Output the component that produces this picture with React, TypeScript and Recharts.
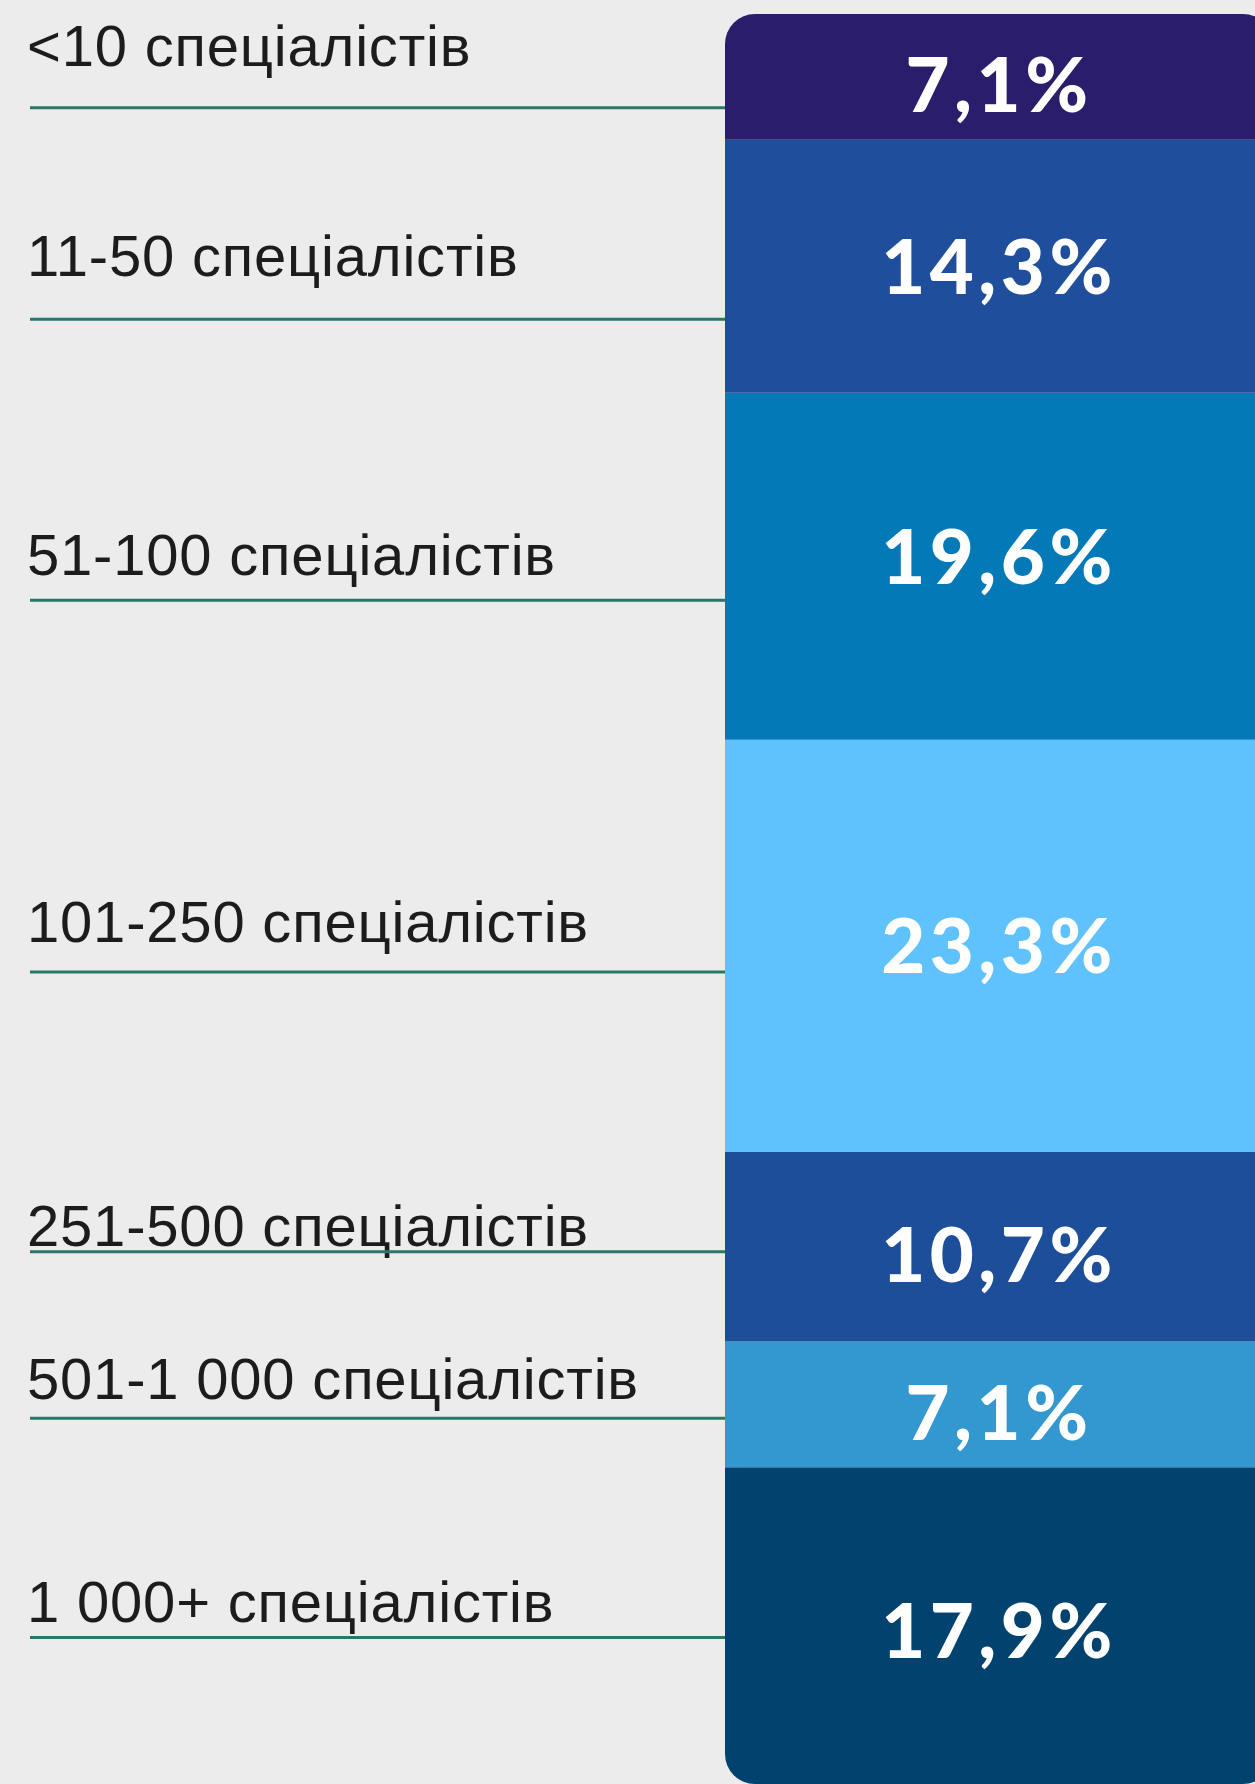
import React from 'react';
import { BarChart, Bar, XAxis, YAxis } from 'recharts';

// ---- data ----
const categories = [
  '<10 спеціалістів',
  '11-50 спеціалістів',
  '51-100 спеціалістів',
  '101-250 спеціалістів',
  '251-500 спеціалістів',
  '501-1 000 спеціалістів',
  '1 000+ спеціалістів',
];
const shares = [7.1, 14.3, 19.6, 23.3, 10.7, 7.1, 17.9];

// ---- styles / layout (kept apart from data) ----
const colors = ['#2a1e6c', '#1f4f9c', '#0479b8', '#60c2fd', '#1d4e9a', '#3498d0', '#01436e'];
const labelTextOffset = [-11, 10, 9, -4, -1, -5, -4];
const labelLineOffset = [31, 53, 34, 26, 5, 14, 12];
const pctOffset = [8, 0, -10, 0, 8, 8, 5];

const row: Record<string, number | string> = { name: 'all' };
shares.forEach((v, i) => {
  row['s' + i] = v;
});
const data = [row];

const fmt = (v: number) => v.toFixed(1).replace('.', ',') + '%';

const makeLabel = (i: number) => (props: any) => {
  const vb = props.viewBox && props.viewBox.width != null ? props.viewBox : props;
  const x = Number(vb.x);
  const y = Number(vb.y);
  const w = Number(vb.width);
  const h = Number(vb.height);
  const top = Math.min(y, y + h);
  const hh = Math.abs(h);
  const cy = top + hh / 2;
  const pctSize = 76;
  return (
    <g key={'lbl' + i}>
      <text
        x={x + w / 2}
        y={cy + pctSize * 0.72 / 2 + pctOffset[i]}
        textAnchor="middle"
        fill="#ffffff"
        fontFamily="Lato, 'Open Sans', sans-serif"
        fontWeight={900}
        fontSize={pctSize}
        letterSpacing={4.5}
      >
        {fmt(shares[i])}
      </text>
      <text
        x={27}
        y={cy + labelTextOffset[i]}
        fill="#1c1c1c"
        fontFamily="'Liberation Sans', Arial, sans-serif"
        fontSize={58}
        letterSpacing={0.8}
      >
        {categories[i]}
      </text>
      <line
        x1={30}
        x2={x}
        y1={cy + labelLineOffset[i]}
        y2={cy + labelLineOffset[i]}
        stroke="#26786a"
        strokeWidth={3}
      />
    </g>
  );
};

const order = shares.map((_, i) => i).reverse();

export default function App() {
  return (
    <div
      style={{
        position: 'absolute',
        left: 0,
        top: 0,
        width: 1255,
        height: 1784,
        overflow: 'hidden',
        background: '#ececec',
      }}
    >
      <BarChart
        width={1273}
        height={1784}
        data={data}
        margin={{ top: 14, right: 0, bottom: 0, left: 725 }}
        barCategoryGap={0}
        barGap={0}
      >
        <XAxis dataKey="name" hide />
        <YAxis type="number" domain={[0, 'dataMax']} hide />
        {order.map((i) => (
          <Bar
            key={'s' + i}
            dataKey={'s' + i}
            stackId="a"
            fill={colors[i]}
            isAnimationActive={false}
            radius={i === 0 ? [30, 30, 0, 0] : i === shares.length - 1 ? [0, 0, 30, 30] : 0}
            label={makeLabel(i)}
          />
        ))}
      </BarChart>
    </div>
  );
}
